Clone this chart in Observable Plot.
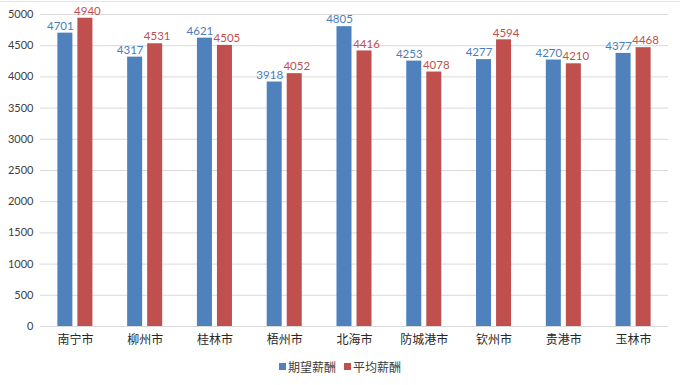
<!DOCTYPE html>
<html>
<head>
<meta charset="utf-8">
<script src="https://cdn.jsdelivr.net/npm/d3@7"></script>
<script src="https://cdn.jsdelivr.net/npm/@observablehq/plot@0.6"></script>
<style>
  body { margin: 0; background: #fff; font-family: Lato, "Noto Sans CJK SC", sans-serif; }
  #wrap { width: 680px; height: 385px; position: relative; overflow: hidden; }
  #topline { position: absolute; left: 0; top: 1px; width: 680px; height: 0; border-top: 1px solid #e4e4e4; }
  #legend { position: absolute; left: 0; top: 358px; width: 680px; display: flex; justify-content: center; gap: 8px; font-size: 12px; color: #404040; font-family: "Noto Sans CJK SC", sans-serif; }
  .item { display: flex; align-items: center; gap: 2px; }
  .sw { width: 7px; height: 7px; display: inline-block; }
</style>
</head>
<body>
<div id="wrap"><div id="topline"></div><div id="chart"></div><div id="legend"></div></div>
<script>
const cities = ["南宁市","柳州市","桂林市","梧州市","北海市","防城港市","钦州市","贵港市","玉林市"];
const seriesNames = ["期望薪酬","平均薪酬"];
const expected = [4701,4317,4621,3918,4805,4253,4277,4270,4377];
const average = [4940,4531,4505,4052,4416,4078,4594,4210,4468];
const yTicks = [0,500,1000,1500,2000,2500,3000,3500,4000,4500,5000];
const colors = ["#4f81bd","#c0504d"];
const labelColors = ["#4a7ebb","#c0504d"];

const data = [];
cities.forEach((c, i) => {
  data.push({city: c, series: seriesNames[0], value: expected[i]});
  data.push({city: c, series: seriesNames[1], value: average[i]});
});

const chart = Plot.plot({
  width: 680,
  height: 355,
  marginTop: 14,
  marginBottom: 29,
  marginLeft: 40,
  marginRight: 12,
  style: {fontFamily: 'Lato, "Noto Sans CJK SC", sans-serif', fontSize: "11px", color: "#404040", background: "#fff"},
  fx: {domain: cities, paddingInner: 0, paddingOuter: 0, round: false, label: null, axis: "bottom", tickSize: 0, tickPadding: 9},
  x: {domain: seriesNames, paddingInner: 0.25, paddingOuter: 0.8675, round: false, axis: null},
  y: {domain: [0, 5000], ticks: yTicks, tickFormat: "d", tickSize: 0, tickPadding: 7, label: null},
  color: {domain: seriesNames, range: colors},
  marks: [
    Plot.ruleY(yTicks, {stroke: "#d9d9d9", strokeWidth: 1}),
    Plot.barY(data, {fx: "city", x: "series", y: "value", fill: "series"}),
    Plot.text(data.filter(d => d.series === seriesNames[0]), {fx: "city", x: "series", y: "value", text: d => String(d.value), dy: -7, dx: -5, fill: labelColors[0], fontSize: 11.5}),
    Plot.text(data.filter(d => d.series === seriesNames[1]), {fx: "city", x: "series", y: "value", text: d => String(d.value), dy: -7, dx: 2, fill: labelColors[1], fontSize: 11.5})
  ]
});
chart.querySelectorAll('[aria-label="fx-axis tick label"] text, [aria-label="fx-axis"] text').forEach(t => { t.style.fontSize = "12px"; t.setAttribute("fill", "#262626"); });
document.getElementById("chart").appendChild(chart);

const legend = document.getElementById("legend");
seriesNames.forEach((s, i) => {
  const item = document.createElement("span");
  item.className = "item";
  const sw = document.createElement("span");
  sw.className = "sw";
  sw.style.background = colors[i];
  item.appendChild(sw);
  item.appendChild(document.createTextNode(s));
  legend.appendChild(item);
});
</script>
</body>
</html>
